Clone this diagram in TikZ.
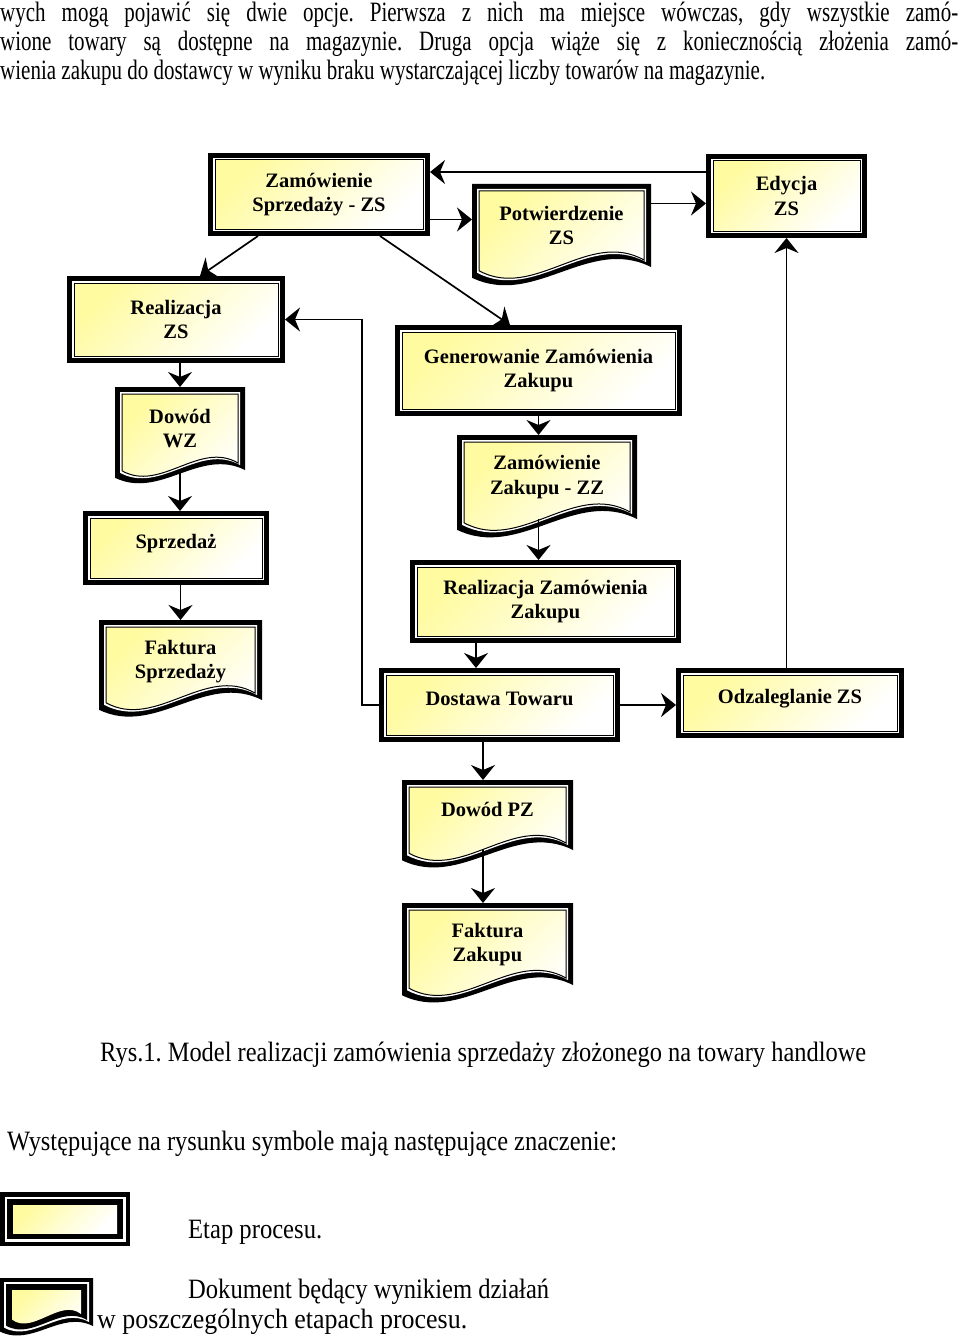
\documentclass[tikz,border=0pt]{standalone}
\usepackage{fontspec}
\usepackage{graphicx}
\setmainfont{Liberation Serif}
\usetikzlibrary{arrows.meta,calc}
\definecolor{boxyel}{RGB}{255,251,160}
\newcommand\boxfont{\fontsize{20.5}{24.5}\selectfont\bfseries}
\newcommand\bodyfont{\fontsize{28}{30}\selectfont\frenchspacing}
\newcommand\fitline[2]{\resizebox{#1}{\height}{#2}}
\newlength\lthree
\tikzset{
  yelshade/.style={top color=boxyel, bottom color=white, shading angle=45},
  proc/.style={rectangle, inner sep=0pt, outer sep=0pt, fill=black, font=\boxfont, align=center,
    path picture={
      \fill[white] ([shift={(5pt,5pt)}]path picture bounding box.south west) rectangle ([shift={(-5pt,-5pt)}]path picture bounding box.north east);
      \shade[yelshade, draw=black, line width=1pt]
        ([shift={(7pt,7pt)}]path picture bounding box.south west) rectangle ([shift={(-7pt,-7pt)}]path picture bounding box.north east);
    }},
  legproc/.style={rectangle, inner sep=0pt, outer sep=0pt, fill=black,
    path picture={
      \fill[white] ([shift={(4.5pt,4.5pt)}]path picture bounding box.south west) rectangle ([shift={(-4.5pt,-4.5pt)}]path picture bounding box.north east);
      \fill[black] ([shift={(7pt,7pt)}]path picture bounding box.south west) rectangle ([shift={(-7pt,-7pt)}]path picture bounding box.north east);
      \shade[yelshade]
        ([shift={(13pt,13pt)}]path picture bounding box.south west) rectangle ([shift={(-13pt,-13pt)}]path picture bounding box.north east);
    }},
  docnode/.style={rectangle, inner sep=0pt, outer sep=0pt},
  boxtext/.style={inner sep=0pt, font=\boxfont, align=center},
  bodytext/.style={anchor=base west, inner sep=0pt, font=\bodyfont},
  docshade/.style={yelshade, draw=black, line width=1pt},
  legshade/.style={yelshade},
  conn/.style={line width=1.7pt, -{Stealth[length=15pt,width=24pt,inset=5pt]}},
}
% process box: name, x1, y1, x2, y2, text
\newcommand\procbox[6]{%
  \node[proc, minimum width={(#4-#2)*1pt}, minimum height={(#5-#3)*1pt}] (#1) at ({(#2+#4)/2},{(#3+#5)/2}) {#6};}
% one layer of a document outline, inset #2
\newcommand\docpart[2]{%
  \path[#1] ({\docXa+#2},{\docYa+#2}) -- ({\docXb-#2},{\docYa+#2}) -- ({\docXb-#2},{\docYr-#2})
    .. controls ({\docXa+0.65*\docW},{\docYr-2.9*\docA-#2}) and ({\docXa+0.35*\docW},{\docYr+3.8*\docA-#2})
    .. ({\docXa+#2},{\docYr+\docA-#2}) -- cycle;}
\newcommand\docset[4]{%
  \pgfmathsetmacro\docXa{#1}\pgfmathsetmacro\docYa{#2}%
  \pgfmathsetmacro\docXb{#3}\pgfmathsetmacro\docYr{#4}%
  \pgfmathsetmacro\docW{#3-#1}\pgfmathsetmacro\docA{0.06*\docW}}
% document box: name, x1, y1, x2, yR, text centre y, text
\newcommand\docbox[7]{%
  \docset{#2}{#3}{#4}{#5}%
  \docpart{fill=black}{0}%
  \docpart{fill=white}{5}%
  \docpart{docshade}{7}%
  \node[docnode, minimum width={(#4-#2)*1pt}, minimum height={(#5-#3)*1pt}] (#1) at ({(#2+#4)/2},{(#3+#5)/2}) {};
  \node[boxtext] (#1t) at ({(#2+#4)/2},#6) {#7};}
\newcommand\lineone{wych mogą pojawić się dwie opcje. Pierwsza z nich ma miejsce wówczas, gdy wszystkie zamó-}
\newcommand\linetwo{wione towary są dostępne na magazynie. Druga opcja wiąże się z koniecznością złożenia zamó-}
\newcommand\linethree{wienia zakupu do dostawcy w wyniku braku wystarczającej liczby towarów na magazynie.}
\begin{document}
\settowidth\lthree{\bodyfont\linethree}
\begin{tikzpicture}[x=1pt,y=-1pt]
\useasboundingbox (0,0) rectangle (960,1343);
\fill[white] (0,0) rectangle (960,1343);

% body text (same horizontal compression, first two lines justified)
\node[bodytext] (t1) at (0,22) {\fitline{958pt}{\makebox[\dimexpr\lthree*958/765\relax][s]{\lineone}}};
\node[bodytext] (t2) at (0,51) {\fitline{958pt}{\makebox[\dimexpr\lthree*958/765\relax][s]{\linetwo}}};
\node[bodytext] (t3) at (0,80) {\fitline{765pt}{\linethree}};

% process boxes
\procbox{ZS}{208}{153}{430}{236}{Zamówienie\\Sprzedaży - ZS}
\procbox{ED}{706}{154}{867}{238}{Edycja\\ZS}
\procbox{RZS}{67}{276}{285}{363}{Realizacja\\ZS}
\procbox{SP}{83}{511}{269}{585}{\smash{Sprzedaż}}
\procbox{GEN}{395}{325}{682}{416}{Generowanie Zamówienia\\Zakupu}
\procbox{RZZ}{410}{560}{681}{643}{Realizacja Zamówienia\\Zakupu}
\procbox{DT}{379}{668}{620}{742}{\smash{Dostawa Towaru}}
\procbox{ODZ}{676}{668}{904}{738}{\smash{Odzaleglanie ZS}}

% document boxes
\docbox{PZS}{472}{184}{651}{267}{225.5}{Potwierdzenie\\ZS}
\docbox{DWZ}{115}{387}{245}{470}{428.5}{Dowód\\WZ}
\docbox{FS}{99}{620}{262}{700}{661.5}{Faktura\\Sprzedaży}
\docbox{ZZ}{457}{435}{637}{519}{477}{Zamówienie\\Zakupu - ZZ}
\docbox{DPZ}{402}{780}{573}{850}{809}{Dowód PZ}
\docbox{FZ}{402}{903}{573}{985}{944.5}{Faktura\\Zakupu}

% connectors
\draw[conn] ([yshift=24pt]ED.west) -- ([yshift=24pt]ED.west -| ZS.east);
\draw[conn] ([yshift=-25pt]ZS.east) -- ([yshift=-25pt]ZS.east -| PZS.west);
\draw[conn] ([yshift=22pt]PZS.east) -- ([yshift=22pt]PZS.east -| ED.west);
\draw[conn] ([xshift=50pt]ZS.south west) -- ([xshift=133pt]RZS.north west);
\draw[conn] ([xshift=-50pt]ZS.south east) -- ([xshift=115pt]GEN.north west);
\draw[conn] (GEN.south) -- (GEN.south |- ZZ.north);
\draw[conn] (GEN.south |- ZZ.south) -- (GEN.south |- RZZ.north);
\draw[conn] ([xshift=66pt]RZZ.south west) -- ([xshift=66pt]RZZ.south west |- DT.north);
\draw[conn] (DT.east) -- (DT.east -| ODZ.west);
\draw[conn] (ED.south |- ODZ.north) -- (ED.south);
\draw[conn] (DT.west) -- ++(-17pt,0) |- (RZS.east);
\draw[conn] (DWZ.north |- RZS.south) -- (DWZ.north);
\draw[conn] (DWZ.south) -- (DWZ.south |- SP.north);
\draw[conn] (FS.north |- SP.south) -- (FS.north);
\draw[conn] ([xshift=-4.5pt]DPZ.north |- DT.south) -- ([xshift=-4.5pt]DPZ.north);
\draw[conn] ([xshift=-4.5pt]DPZ.south) -- ([xshift=-4.5pt]DPZ.south |- FZ.north);

% caption and legend
\node[bodytext] (cap) at (100,1061) {\fitline{766pt}{Rys.1. Model realizacji zamówienia sprzedaży złożonego na towary handlowe}};
\node[bodytext] (leg) at (7,1150) {\fitline{610pt}{Występujące na rysunku symbole mają następujące znaczenie:}};

\node[legproc, minimum width=130pt, minimum height=54pt] (legP) at (65,1219) {};
\node[bodytext] (legPt) at (188,1238) {\fitline{134pt}{Etap procesu.}};

\docset{0}{1278}{93}{1326}
\docpart{fill=black}{0}
\docpart{fill=white}{4}
\docpart{fill=black}{6}
\docpart{legshade}{12}
\node[docnode, minimum width=93pt, minimum height=48pt] (legD) at (46.5,1302) {};
\node[bodytext] (legDt1) at (188,1298) {\fitline{361pt}{Dokument będący wynikiem działań}};
\node[bodytext] (legDt2) at (97,1328) {\fitline{370pt}{w poszczególnych etapach procesu.}};
\end{tikzpicture}
\end{document}
